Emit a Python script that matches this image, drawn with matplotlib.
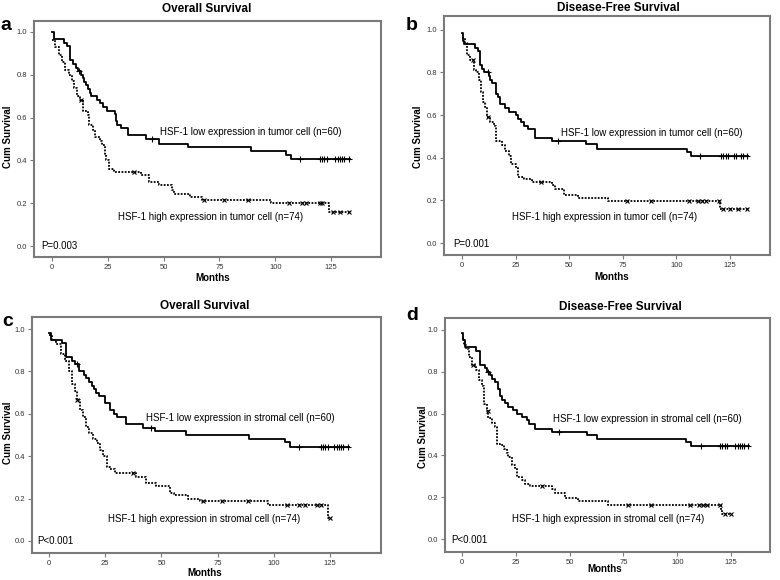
import numpy as np
import matplotlib
matplotlib.use('Agg')
import matplotlib.pyplot as plt

# ---- panel a: overall survival, tumor cell ----
a_low_t = [0, 1, 5.5, 6.5, 8, 9.5, 10.5, 11.6, 13, 13.8, 14.5, 15.3, 16, 16.8, 17.6,
           20, 21.4, 23, 24.6, 28, 28.7, 29, 31, 34, 42, 48, 61, 89, 105, 107]
a_low_s = [1.0, 0.967, 0.95, 0.933, 0.867, 0.85, 0.833, 0.817, 0.80, 0.783, 0.767, 0.75,
           0.733, 0.717, 0.70, 0.683, 0.667, 0.65, 0.633, 0.617, 0.583, 0.567, 0.55, 0.517,
           0.50, 0.477, 0.461, 0.442, 0.427, 0.405]
a_low_cens = [12, 45, 111, 120, 121, 122, 123, 127, 128, 129, 130, 131, 133]
a_high_t = [0, 1.5, 3, 4.5, 6, 7.5, 9, 10, 11, 12.5, 14, 16, 16.5, 18.5, 19.3, 21.5, 22.4,
            23.5, 24.3, 25.4, 27.6, 40, 43.3, 47.8, 53.8, 54.5, 62, 67, 98, 124]
a_high_s = [0.96, 0.93, 0.89, 0.86, 0.82, 0.80, 0.77, 0.74, 0.70, 0.68, 0.63, 0.61, 0.565,
            0.54, 0.51, 0.49, 0.47, 0.43, 0.40, 0.36, 0.345, 0.33, 0.30, 0.285, 0.26, 0.245,
            0.23, 0.215, 0.20, 0.16]
a_high_cens = [12.8, 36.6, 68, 77, 88, 106, 112, 114, 120, 121, 126, 129, 133]

# ---- panel b: disease-free survival, tumor cell ----
b_low_t = [0, 0.5, 1, 6.2, 7.3, 8.2, 9.3, 10.4, 12.4, 13.2, 14, 16, 17, 17.9, 20.2, 21.7,
           25.3, 26, 27.5, 28.7, 31, 34.2, 42, 58, 63, 105, 107]
b_low_s = [0.983, 0.95, 0.933, 0.917, 0.90, 0.833, 0.817, 0.80, 0.783, 0.767, 0.75, 0.70,
           0.683, 0.65, 0.633, 0.617, 0.60, 0.583, 0.567, 0.55, 0.533, 0.495, 0.48, 0.464,
           0.44, 0.425, 0.408]
b_low_cens = [12, 45, 111, 121, 122, 123, 124, 127, 128, 130, 131, 133]
b_high_t = [0, 1.5, 2.3, 3.9, 5.5, 6.7, 7.8, 8.9, 9.8, 10.9, 11.6, 13.2, 14.8, 16, 18.6,
            20.2, 21.7, 22.8, 25.3, 26, 28.7, 32.6, 42, 43.5, 47.7, 54.3, 68.3, 120.3]
b_high_s = [0.96, 0.94, 0.88, 0.86, 0.81, 0.80, 0.765, 0.71, 0.66, 0.64, 0.59, 0.57, 0.55,
            0.48, 0.46, 0.43, 0.41, 0.37, 0.35, 0.31, 0.30, 0.285, 0.27, 0.255, 0.225, 0.21,
            0.195, 0.16]
b_high_cens = [5, 12, 37, 77, 88, 106, 110, 112, 114, 120, 122, 125, 129, 133]

# ---- panel c: overall survival, stromal cell ----
c_low_t = [0, 1, 5.9, 7.7, 10, 11.4, 13.4, 15.4, 16.3, 17.8, 18.9, 19.9, 21.1, 22.3, 24.8,
           27, 29, 30.3, 34.1, 41.6, 47, 61, 89, 105, 107]
c_low_s = [0.983, 0.95, 0.933, 0.867, 0.85, 0.833, 0.80, 0.783, 0.767, 0.75, 0.733, 0.717,
           0.70, 0.683, 0.65, 0.617, 0.60, 0.583, 0.55, 0.533, 0.517, 0.50, 0.483, 0.467, 0.441]
c_low_cens = [12.5, 45.5, 111, 121, 122, 123, 124, 127, 128, 129, 130, 131, 133]
c_high_t = [0, 1.5, 3.3, 5.5, 7, 8.9, 10.4, 11.4, 12.3, 13.7, 15.1, 16.3, 17.8, 19.6, 21.4,
            22.6, 23.8, 25.8, 27, 29.2, 38.9, 43.3, 47.8, 53.7, 55.5, 61.9, 67.1, 97.5, 124.3]
c_high_s = [0.97, 0.95, 0.93, 0.88, 0.85, 0.80, 0.74, 0.71, 0.665, 0.62, 0.585, 0.54, 0.51,
            0.48, 0.46, 0.43, 0.40, 0.35, 0.34, 0.32, 0.30, 0.275, 0.26, 0.225, 0.215, 0.20,
            0.19, 0.17, 0.11]
c_high_cens = [12.5, 37.5, 68.5, 77, 88.5, 106, 111, 114, 119, 121, 125]

# ---- panel d: disease-free survival, stromal cell ----
d_low_t = [0, 0.5, 1.5, 6.6, 8.2, 10.5, 11.6, 13.1, 13.9, 15.2, 16.5, 17.7, 18.5, 20.1,
           21.6, 23.6, 25.5, 27.8, 30.1, 30.9, 34, 41.7, 57.9, 62.8, 104, 106.5]
d_low_s = [0.983, 0.95, 0.917, 0.90, 0.833, 0.817, 0.80, 0.783, 0.767, 0.75, 0.717, 0.683,
           0.667, 0.65, 0.633, 0.617, 0.60, 0.583, 0.567, 0.55, 0.526, 0.514, 0.498, 0.479,
           0.463, 0.443]
d_low_cens = [12, 45, 111, 120, 121, 122, 123, 127, 128, 129, 130, 131, 133]
d_high_t = [0, 0.8, 2, 3.1, 4.6, 6.6, 7.7, 9.3, 10, 10.3, 11.6, 12.2, 13.9, 15.4, 16.2,
            17.7, 19.3, 20.8, 21.6, 23.1, 24.7, 25.5, 27.8, 29.3, 31.6, 41.7, 43.2, 47.8,
            54, 67.9, 120.4, 121]
d_high_s = [0.96, 0.93, 0.91, 0.87, 0.83, 0.81, 0.76, 0.73, 0.71, 0.645, 0.61, 0.58, 0.553,
            0.535, 0.455, 0.45, 0.43, 0.41, 0.39, 0.355, 0.34, 0.295, 0.28, 0.265, 0.255,
            0.24, 0.22, 0.195, 0.18, 0.165, 0.14, 0.12]
d_high_cens = [5, 12, 37, 77, 88, 106, 110, 112, 114, 120, 122, 125]

titles = ['Overall Survival', 'Disease-Free Survival', 'Overall Survival', 'Disease-Free Survival']
letters = ['a', 'b', 'c', 'd']
cells = ['tumor', 'tumor', 'stromal', 'stromal']
pvals = ['P=0.003', 'P=0.001', 'P<0.001', 'P<0.001']

FRAME = '#7a7a7a'


def px(x, y):
    return x / 780, 1 - y / 580


def surv_at(t, s, c):
    i = np.searchsorted(t, c, side='right') - 1
    return np.array(s)[i]


def km(ax, t, s, cens, end, low):
    t = np.array(t, dtype=float)
    tt = np.append(t, end)
    ss = np.append(s, s[-1])
    if low:
        ax.step(tt, ss, where='post', color='black', lw=1.3)
        ax.plot(cens, surv_at(t, s, cens), ls='none', marker='+', ms=5, mew=0.8, color='black')
    else:
        ax.step(tt, ss, where='post', color='black', lw=1.3, ls=(0, (1, 0.8)))
        ax.plot(cens, surv_at(t, s, cens), ls='none', marker='x', ms=3, mew=0.8, color='black')


def main():
    plt.rcParams['font.family'] = ['Liberation Sans', 'DejaVu Sans']
    fig = plt.figure(figsize=(7.8, 5.8), dpi=100)

    # axes boxes in pixels: left, top, right, bottom
    boxes = [(34, 21, 381, 257), (444, 16, 770, 255), (32, 317, 381, 553), (445, 318, 770, 552)]
    xlims = [(-8.1, 147.4), (-8.4, 143.7), (-7.6, 147.7), (-7.9, 143.1)]
    ylims = [(-0.051, 1.051), (-0.056, 1.065), (-0.057, 1.057), (-0.062, 1.057)]
    data = [
        (a_low_t, a_low_s, a_low_cens, 133.5, a_high_t, a_high_s, a_high_cens, 133.5),
        (b_low_t, b_low_s, b_low_cens, 133.5, b_high_t, b_high_s, b_high_cens, 133.5),
        (c_low_t, c_low_s, c_low_cens, 133.5, c_high_t, c_high_s, c_high_cens, 125),
        (d_low_t, d_low_s, d_low_cens, 133.5, d_high_t, d_high_s, d_high_cens, 125),
    ]
    low_pos = [(48.4, 0.533), (46.2, 0.516), (43.1, 0.58), (42.3, 0.574)]
    high_pos = [(29.6, 0.135), (23.3, 0.122), (26.2, 0.104), (23.2, 0.096)]
    p_pos = [(-5.0, 0.0), (-4.2, -0.005), (-5.3, 0.0), (-5.1, -0.005)]
    title_pos = [(207, 9), (618, 8), (205, 306), (620, 307)]
    letter_pos = [(6, 25), (412, 25), (8, 322), (412, 315)]
    ylab_pos = [(8, 137), (418, 137), (8, 433), (423, 437)]
    xlab_pos = [(213, 278), (612, 277), (205, 573), (605, 569)]

    for k in range(4):
        l, tp, r, b = boxes[k]
        ax = fig.add_axes([l / 780, 1 - b / 580, (r - l) / 780, (b - tp) / 580])
        lt, ls, lc, le, ht, hs, hc, he = data[k]
        km(ax, lt, ls, lc, le, True)
        km(ax, ht, hs, hc, he, False)
        ax.set_xlim(*xlims[k])
        ax.set_ylim(*ylims[k])
        ax.set_xticks([0, 25, 50, 75, 100, 125])
        ax.set_yticks([0.0, 0.2, 0.4, 0.6, 0.8, 1.0])
        ax.set_yticklabels(['0.0', '0.2', '0.4', '0.6', '0.8', '1.0'])
        ax.tick_params(direction='out', length=3, width=0.8, color=FRAME,
                       labelsize=5.5, labelcolor='#333333', pad=2)
        for sp in ax.spines.values():
            sp.set_color(FRAME)
            sp.set_linewidth(1.5)

        ax.text(*low_pos[k], 'HSF-1 low expression in %s cell (n=60)' % cells[k],
                fontsize=7, va='center', ha='left')
        ax.text(*high_pos[k], 'HSF-1 high expression in %s cell (n=74)' % cells[k],
                fontsize=7, va='center', ha='left')
        ax.text(*p_pos[k], pvals[k], fontsize=7, va='center', ha='left')

        fig.text(*px(*title_pos[k]), titles[k], fontsize=8.5, fontweight='bold',
                 ha='center', va='center')
        fig.text(*px(*letter_pos[k]), letters[k], fontsize=14, fontweight='bold',
                 ha='center', va='center')
        fig.text(*px(*ylab_pos[k]), 'Cum Survival', fontsize=7, fontweight='bold',
                 rotation=90, ha='center', va='center')
        fig.text(*px(*xlab_pos[k]), 'Months', fontsize=7, fontweight='bold',
                 ha='center', va='center')

    fig.savefig('out.png', dpi=100)


if __name__ == '__main__':
    main()
